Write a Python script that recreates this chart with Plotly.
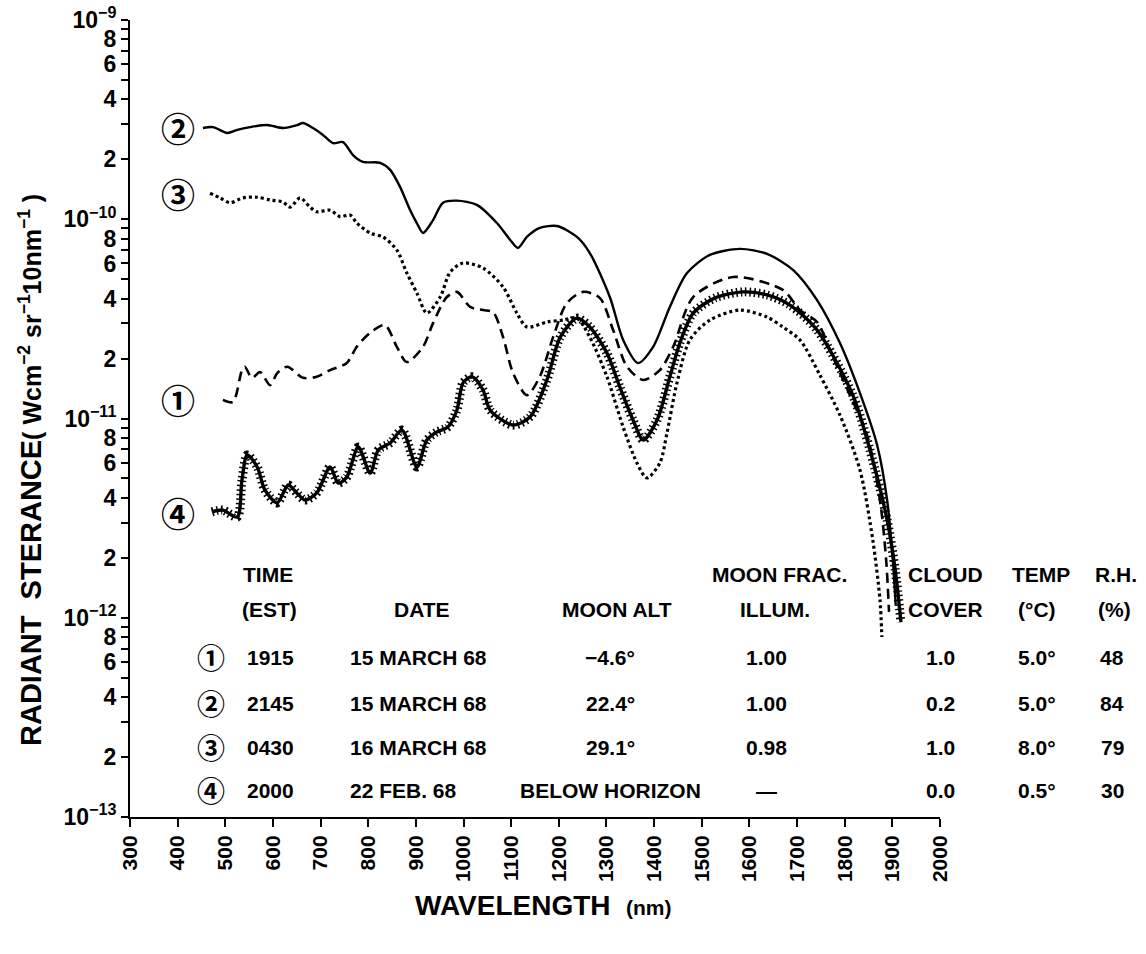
import plotly.graph_objects as go

# ---------------- data ----------------
# Curve 1 : 1915 EST, 15 March 68 (dashed)
wl_1 = [495, 516, 535, 541, 556, 573, 594, 609, 630, 663, 692, 720, 755, 776, 804, 835,
        860, 881, 915, 936, 965, 986, 1014, 1041, 1062, 1083, 1104, 1133, 1160, 1188,
        1217, 1251, 1286, 1314, 1343, 1377, 1412, 1440, 1482, 1566, 1670, 1706, 1742,
        1775, 1811, 1847, 1874, 1887, 1893]
rad_1 = [1.24e-11, 1.21e-11, 1.75e-11, 1.82e-11, 1.60e-11, 1.71e-11, 1.47e-11, 1.69e-11,
         1.82e-11, 1.60e-11, 1.62e-11, 1.75e-11, 1.90e-11, 2.29e-11, 2.69e-11, 2.94e-11,
         2.29e-11, 1.92e-11, 2.29e-11, 3.01e-11, 4.07e-11, 4.32e-11, 3.63e-11, 3.50e-11,
         3.42e-11, 2.56e-11, 1.69e-11, 1.31e-11, 1.62e-11, 2.56e-11, 3.80e-11, 4.32e-11,
         4.03e-11, 2.78e-11, 1.82e-11, 1.56e-11, 1.75e-11, 2.29e-11, 4.07e-11, 5.13e-11,
         4.42e-11, 3.50e-11, 3.05e-11, 2.04e-11, 1.31e-11, 8.26e-12, 3.90e-12, 1.95e-12,
         1.07e-12]

# Curve 2 : 2145 EST, 15 March 68 (solid)
wl_2 = [453, 474, 504, 525, 552, 588, 621, 651, 663, 684, 705, 726, 747, 768, 789, 825,
        846, 867, 888, 902, 915, 936, 957, 986, 1028, 1070, 1098, 1114, 1133, 1160, 1196,
        1238, 1265, 1307, 1335, 1366, 1398, 1433, 1469, 1517, 1580, 1637, 1692, 1742,
        1790, 1832, 1868, 1889, 1901, 1907]
rad_2 = [2.87e-10, 2.90e-10, 2.71e-10, 2.81e-10, 2.90e-10, 2.97e-10, 2.87e-10, 2.97e-10,
         3.04e-10, 2.87e-10, 2.65e-10, 2.41e-10, 2.44e-10, 2.10e-10, 1.94e-10, 1.92e-10,
         1.77e-10, 1.45e-10, 1.11e-10, 9.57e-11, 8.53e-11, 9.90e-11, 1.21e-10, 1.24e-10,
         1.18e-10, 9.57e-11, 7.87e-11, 7.18e-11, 8.15e-11, 9.04e-11, 9.25e-11, 8.15e-11,
         6.77e-11, 4.07e-11, 2.48e-11, 1.90e-11, 2.29e-11, 3.63e-11, 5.37e-11, 6.62e-11,
         7.10e-11, 6.70e-11, 5.56e-11, 3.93e-11, 2.39e-11, 1.34e-11, 7.36e-12, 3.90e-12,
         1.95e-12, 1.16e-12]

# Curve 3 : 0430 EST, 16 March 68 (dotted)
wl_3 = [468, 489, 510, 537, 567, 594, 621, 636, 657, 678, 692, 720, 741, 762, 776, 804,
        831, 860, 881, 902, 923, 951, 972, 999, 1041, 1083, 1112, 1133, 1175, 1209, 1238,
        1265, 1301, 1335, 1364, 1385, 1412, 1427, 1448, 1475, 1517, 1580, 1637, 1670,
        1706, 1748, 1790, 1832, 1859, 1874, 1878]
rad_3 = [1.35e-10, 1.28e-10, 1.21e-10, 1.28e-10, 1.29e-10, 1.25e-10, 1.22e-10, 1.15e-10,
         1.28e-10, 1.15e-10, 1.09e-10, 1.11e-10, 1.03e-10, 1.05e-10, 9.57e-11, 8.53e-11,
         8.15e-11, 7.01e-11, 5.37e-11, 4.27e-11, 3.38e-11, 4.07e-11, 5.43e-11, 6.03e-11,
         5.69e-11, 4.57e-11, 3.38e-11, 2.88e-11, 3.05e-11, 3.12e-11, 3.19e-11, 2.56e-11,
         1.62e-11, 9.06e-12, 5.98e-12, 5.03e-12, 5.98e-12, 8.46e-12, 1.51e-11, 2.48e-11,
         3.12e-11, 3.50e-11, 3.23e-11, 2.88e-11, 2.48e-11, 1.65e-11, 1.04e-11, 5.52e-12,
         2.45e-12, 1.23e-12, 8.0e-13]

# Curve 4 : 2000 EST, 22 Feb 68 (starred)
wl_4 = [472, 495, 525, 535, 546, 567, 583, 609, 632, 650, 667, 692, 720, 737, 755, 779,
        804, 821, 846, 871, 902, 923, 944, 967, 986, 999, 1018, 1041, 1056, 1104, 1140,
        1175, 1203, 1238, 1265, 1301, 1328, 1356, 1377, 1406, 1433, 1454, 1482, 1528,
        1587, 1637, 1685, 1742, 1817, 1853, 1889, 1906, 1918]
rad_4 = [3.40e-12, 3.47e-12, 3.20e-12, 4.91e-12, 6.56e-12, 5.71e-12, 4.38e-12, 3.77e-12,
         4.64e-12, 4.23e-12, 3.90e-12, 4.23e-12, 5.71e-12, 4.74e-12, 5.08e-12, 7.19e-12,
         5.32e-12, 6.95e-12, 7.53e-12, 8.75e-12, 5.71e-12, 7.80e-12, 8.56e-12, 9.06e-12,
         1.10e-11, 1.51e-11, 1.62e-11, 1.39e-11, 1.10e-11, 9.27e-12, 1.02e-11, 1.56e-11,
         2.56e-11, 3.19e-11, 2.88e-11, 2.13e-11, 1.44e-11, 9.80e-12, 7.80e-12, 9.80e-12,
         1.62e-11, 2.39e-11, 3.38e-11, 4.03e-11, 4.32e-11, 4.17e-11, 3.71e-11, 2.78e-11,
         1.31e-11, 6.95e-12, 3.10e-12, 1.74e-12, 9.50e-13]

# x tick labels
x_ticks = list(range(300, 2001, 100))

# y ticks: every mantissa 1..9, labels on 1,2,4,6,8
y_exponents = [-13, -12, -11, -10]
y_mantissas = [1, 2, 3, 4, 5, 6, 7, 8, 9]
y_labeled = [2, 4, 6, 8]

# table
circled = ["①", "②", "③", "④"]
times = ["1915", "2145", "0430", "2000"]
dates = ["15 MARCH 68", "15 MARCH 68", "16 MARCH 68", "22 FEB. 68"]
moon_alt = ["−4.6°", "22.4°", "29.1°", "BELOW HORIZON"]
moon_illum = ["1.00", "1.00", "0.98", "—"]
cloud_cover = ["1.0", "0.2", "1.0", "0.0"]
temps = ["5.0°", "5.0°", "8.0°", "0.5°"]
rel_hum = ["48", "84", "79", "30"]

# ---------------- layout helpers ----------------
W, H = 1146, 954
PL, PR, PT, PB = 130, 940, 20, 817
def xp(x):
    return (x - PL) / (PR - PL)
def yp(y):
    return (PB - y) / (PB - PT)

SANS = "Liberation Sans, Arial, sans-serif"
CIRC = "Noto Sans CJK JP, DejaVu Sans, sans-serif"

fig = go.Figure()

fig.add_trace(go.Scatter(x=wl_2, y=rad_2, mode="lines",
                         line=dict(color="black", width=2.4, shape="spline", smoothing=0.8)))
fig.add_trace(go.Scatter(x=wl_3, y=rad_3, mode="lines",
                         line=dict(color="black", width=3.2, dash="3px,3px", shape="spline", smoothing=0.8)))
fig.add_trace(go.Scatter(x=wl_1, y=rad_1, mode="lines",
                         line=dict(color="black", width=2.6, dash="10px,6px", shape="spline", smoothing=0.8)))
fig.add_trace(go.Scatter(x=wl_4, y=rad_4, mode="lines",
                         line=dict(color="black", width=3.4, shape="spline", smoothing=0.8)))
fig.add_trace(go.Scatter(x=wl_4, y=rad_4, mode="lines",
                         line=dict(color="black", width=9, dash="1.5px,3px", shape="spline", smoothing=0.8)))

# y ticks
y_vals, y_text = [], []
for e in y_exponents:
    for m in y_mantissas:
        y_vals.append(m * 10.0 ** e)
        if m == 1:
            y_text.append("10<sup>−%d</sup>" % (-e))
        elif m in y_labeled:
            y_text.append("%d" % m)
        else:
            y_text.append("")
y_vals.append(1e-9)
y_text.append("10<sup>−9</sup>")

fig.update_layout(
    width=W, height=H,
    margin=dict(l=PL, r=W - PR, t=PT, b=H - PB, pad=0),
    paper_bgcolor="white", plot_bgcolor="white",
    showlegend=False,
    xaxis=dict(range=[300, 2000], tickmode="array", tickvals=x_ticks,
               ticktext=[str(v) for v in x_ticks], tickangle=-90,
               ticks="outside", ticklen=8, tickwidth=2, tickcolor="black",
               showline=True, linewidth=2, linecolor="black",
               showgrid=False, zeroline=False, automargin=False,
               tickfont=dict(family=SANS, size=21, color="black", weight="bold")),
    yaxis=dict(type="log", range=[-13, -9], tickmode="array", tickvals=y_vals,
               ticktext=y_text, ticks="outside", ticklen=7, tickwidth=1.6,
               tickcolor="black", showline=True, linewidth=2, linecolor="black",
               showgrid=False, zeroline=False, automargin=False,
               tickfont=dict(family=SANS, size=23, color="black", weight="bold")),
)

ann = []
def txt(x, y, s, size=21, family=SANS, xanchor="center", angle=0):
    ann.append(dict(x=xp(x), y=yp(y), xref="paper", yref="paper", text=s,
                    showarrow=False, xanchor=xanchor, yanchor="middle", textangle=angle,
                    font=dict(family=family, size=size, color="black", weight="bold")))

# curve labels
txt(178, 128, "②", size=34, family=CIRC)
txt(178, 193, "③", size=34, family=CIRC)
txt(178, 400, "①", size=34, family=CIRC)
txt(178, 512, "④", size=34, family=CIRC)

# axis titles
txt(30, 470, "RADIANT  STERANCE<span style='font-size:25px'>( Wcm<sup>−2</sup> sr<sup>−1</sup>10nm<sup>−1</sup> )</span>",
    size=29, angle=-90)
txt(543, 905, "WAVELENGTH  <span style='font-size:21px'>(nm)</span>", size=28)

# table headers
h1, h2 = 574, 609
txt(268, h1, "TIME")
txt(269, h2, "(EST)")
txt(422, h2, "DATE")
txt(617, h2, "MOON ALT")
txt(779, h1, "MOON FRAC.")
txt(775, h2, "ILLUM.")
txt(945, h1, "CLOUD")
txt(945, h2, "COVER")
txt(1041, h1, "TEMP")
txt(1037, h2, "(°C)")
txt(1116, h1, "R.H.")
txt(1114, h2, "(%)")

rows_y = [657, 703, 747, 790]
for i, ry in enumerate(rows_y):
    txt(211, ry, circled[i], size=28, family=CIRC)
    txt(270, ry, times[i])
    txt(348, ry, dates[i], xanchor="left")
    txt(610, ry, moon_alt[i])
    txt(766, ry, moon_illum[i])
    txt(940, ry, cloud_cover[i])
    txt(1037, ry, temps[i])
    txt(1112, ry, rel_hum[i])

fig.update_layout(annotations=ann)
fig.write_html("out.html")
